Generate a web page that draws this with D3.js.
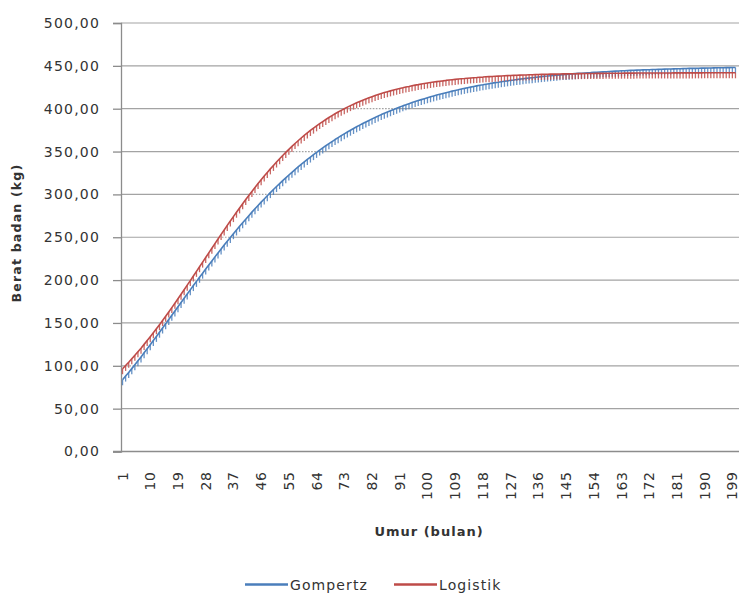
<!DOCTYPE html>
<html>
<head>
<meta charset="utf-8">
<script src="https://cdn.jsdelivr.net/npm/d3@7"></script>
<style>
  html, body { margin: 0; padding: 0; background: #fff; }
  svg { display: block; }
  text { font-family: "DejaVu Sans", Verdana, sans-serif; fill: #333; }
</style>
</head>
<body>
<svg id="chart" width="739" height="597"></svg>
<script>
// Umur (bulan): 1 .. 200
const months = d3.range(1, 201);

// Berat badan (kg) per bulan, model Gompertz
const gompertz = [
  83.7, 88.0, 92.3, 96.7, 101.2, 105.8, 110.4, 115.1, 119.8, 124.6,
  129.4, 134.3, 139.2, 144.1, 149.0, 154.0, 158.9, 163.9, 168.9, 173.8,
  178.8, 183.7, 188.6, 193.6, 198.5, 203.3, 208.1, 212.9, 217.7, 222.4,
  227.1, 231.7, 236.3, 240.9, 245.4, 249.8, 254.2, 258.5, 262.8, 267.0,
  271.1, 275.2, 279.3, 283.2, 287.1, 291.0, 294.7, 298.4, 302.1, 305.7,
  309.2, 312.6, 316.0, 319.3, 322.6, 325.8, 328.9, 332.0, 335.0, 337.9,
  340.8, 343.6, 346.4, 349.0, 351.7, 354.2, 356.8, 359.2, 361.6, 364.0,
  366.2, 368.5, 370.7, 372.8, 374.9, 376.9, 378.9, 380.8, 382.7, 384.5,
  386.3, 388.1, 389.8, 391.4, 393.1, 394.6, 396.1, 397.6, 399.1, 400.5,
  401.9, 403.3, 404.5, 405.8, 407.1, 408.3, 409.5, 410.6, 411.7, 412.8,
  413.9, 414.9, 415.9, 416.9, 417.8, 418.7, 419.6, 420.5, 421.3, 422.1,
  423.0, 423.7, 424.5, 425.2, 425.9, 426.6, 427.3, 427.9, 428.6, 429.2,
  429.8, 430.4, 430.9, 431.5, 432.0, 432.5, 433.1, 433.5, 434.0, 434.5,
  435.0, 435.4, 435.8, 436.2, 436.6, 437.0, 437.4, 437.8, 438.1, 438.5,
  438.8, 439.1, 439.5, 439.8, 440.0, 440.3, 440.6, 440.9, 441.2, 441.4,
  441.7, 441.9, 442.1, 442.4, 442.6, 442.8, 443.0, 443.2, 443.4, 443.6,
  443.8, 444.0, 444.2, 444.3, 444.5, 444.7, 444.8, 445.0, 445.1, 445.3,
  445.4, 445.5, 445.7, 445.8, 445.9, 446.0, 446.2, 446.3, 446.4, 446.5,
  446.6, 446.7, 446.8, 446.9, 447.0, 447.1, 447.1, 447.2, 447.3, 447.4,
  447.5, 447.5, 447.6, 447.7, 447.8, 447.8, 447.9, 447.9, 448.0, 448.1
];

// Berat badan (kg) per bulan, model Logistik
const logistik = [
  96.6, 100.4, 104.2, 108.2, 112.2, 116.4, 120.6, 125.0, 129.4, 133.9,
  138.6, 143.3, 148.0, 152.9, 157.8, 162.8, 167.9, 173.0, 178.2, 183.5,
  188.7, 194.1, 199.4, 204.8, 210.2, 215.6, 221.0, 226.4, 231.8, 237.2,
  242.6, 247.9, 253.3, 258.5, 263.8, 269.0, 274.1, 279.2, 284.2, 289.1,
  294.0, 298.8, 303.5, 308.1, 312.6, 317.0, 321.4, 325.6, 329.8, 333.8,
  337.8, 341.6, 345.4, 349.0, 352.6, 356.0, 359.4, 362.6, 365.8, 368.8,
  371.7, 374.6, 377.3, 380.0, 382.6, 385.0, 387.4, 389.7, 391.9, 394.1,
  396.1, 398.1, 400.0, 401.8, 403.6, 405.3, 406.9, 408.4, 409.9, 411.4,
  412.7, 414.0, 415.3, 416.5, 417.7, 418.8, 419.8, 420.8, 421.8, 422.7,
  423.6, 424.4, 425.3, 426.0, 426.8, 427.5, 428.1, 428.8, 429.4, 430.0,
  430.6, 431.1, 431.6, 432.1, 432.5, 433.0, 433.4, 433.8, 434.2, 434.6,
  434.9, 435.2, 435.6, 435.9, 436.2, 436.4, 436.7, 436.9, 437.2, 437.4,
  437.6, 437.8, 438.0, 438.2, 438.4, 438.6, 438.7, 438.9, 439.0, 439.2,
  439.3, 439.4, 439.6, 439.7, 439.8, 439.9, 440.0, 440.1, 440.2, 440.3,
  440.4, 440.4, 440.5, 440.6, 440.6, 440.7, 440.8, 440.8, 440.9, 440.9,
  441.0, 441.0, 441.1, 441.1, 441.2, 441.2, 441.2, 441.3, 441.3, 441.4,
  441.4, 441.4, 441.4, 441.5, 441.5, 441.5, 441.5, 441.6, 441.6, 441.6,
  441.6, 441.6, 441.7, 441.7, 441.7, 441.7, 441.7, 441.7, 441.7, 441.8,
  441.8, 441.8, 441.8, 441.8, 441.8, 441.8, 441.8, 441.8, 441.8, 441.9,
  441.9, 441.9, 441.9, 441.9, 441.9, 441.9, 441.9, 441.9, 441.9, 441.9
];

// Axis ticks
const xTickMonths = [1, 10, 19, 28, 37, 46, 55, 64, 73, 82, 91, 100, 109, 118,
                     127, 136, 145, 154, 163, 172, 181, 190, 199];
const yTicks = [0, 50, 100, 150, 200, 250, 300, 350, 400, 450, 500];

const seriesNames = ["Gompertz", "Logistik"];
const seriesColors = ["#4a7ebb", "#be4b48"];

const svg = d3.select("#chart");
const plot = { left: 121, right: 737, top: 23, bottom: 451.5 };
const gridRight = 739;

const x = d3.scaleBand().domain(months).range([plot.left, plot.right]);
const xc = m => x(m) + x.bandwidth() / 2;
const y = d3.scaleLinear().domain([0, 500]).range([plot.bottom, plot.top]);

const idLocale = d3.formatLocale({ decimal: ",", thousands: ".", grouping: [3], currency: ["Rp", ""] });
const fmt = idLocale.format(".2f");

// Horizontal gridlines
svg.append("g")
  .selectAll("line")
  .data(yTicks.filter(v => v > 0))
  .join("line")
  .attr("x1", plot.left).attr("x2", gridRight)
  .attr("y1", d => y(d)).attr("y2", d => y(d))
  .attr("stroke", "#a3a3a3").attr("stroke-width", 1.2);

// High-low lines between the two series (light, breaking the gridlines)
svg.append("g")
  .selectAll("line")
  .data(months.map((m, i) => [m, gompertz[i], logistik[i]]))
  .join("line")
  .attr("x1", d => xc(d[0])).attr("x2", d => xc(d[0]))
  .attr("y1", d => y(Math.max(d[1], d[2]))).attr("y2", d => y(Math.min(d[1], d[2])))
  .attr("stroke", "#fff").attr("stroke-width", 1.4);

// Y axis
const yAxis = svg.append("g")
  .attr("transform", `translate(${plot.left},0)`)
  .call(d3.axisLeft(y).tickValues(yTicks).tickFormat(fmt).tickSize(8).tickPadding(13));
yAxis.select(".domain").attr("stroke", "#8c8c8c").attr("stroke-width", 1.3);
yAxis.selectAll(".tick line").attr("stroke", "#8c8c8c").attr("stroke-width", 1.3);
yAxis.selectAll(".tick text")
  .style("font-family", "'DejaVu Sans', Verdana, sans-serif")
  .style("font-size", "14px")
  .style("letter-spacing", "1.2px")
  .attr("fill", "#333");

// X axis
const xAxis = svg.append("g")
  .attr("transform", `translate(0,${plot.bottom})`)
  .call(d3.axisBottom(x).tickValues(xTickMonths).tickSize(0).tickPadding(0));
xAxis.select(".domain").attr("stroke", "#8c8c8c").attr("stroke-width", 1.3)
  .attr("d", `M${plot.left - 8},0H${gridRight}`);
xAxis.selectAll(".tick text")
  .style("font-family", "'DejaVu Sans', Verdana, sans-serif")
  .style("font-size", "14px")
  .style("letter-spacing", "0.6px")
  .attr("fill", "#333")
  .attr("text-anchor", "end")
  .attr("dominant-baseline", "central")
  .attr("dy", null)
  .attr("y", 0)
  .attr("transform", "translate(0,20) rotate(-90)");

// Series: thin line plus a short downward tick at each month
const line = d3.line().x((d, i) => xc(months[i])).y(d => y(d));
[gompertz, logistik].forEach((vals, s) => {
  const g = svg.append("g");
  g.append("g")
    .selectAll("line")
    .data(vals)
    .join("line")
    .attr("x1", (d, i) => xc(months[i])).attr("x2", (d, i) => xc(months[i]))
    .attr("y1", d => y(d)).attr("y2", d => y(d) + 5.5)
    .attr("stroke", seriesColors[s]).attr("stroke-width", 1.3)
    .attr("stroke-opacity", 0.85);
  g.append("path")
    .datum(vals)
    .attr("d", line)
    .attr("fill", "none")
    .attr("stroke", seriesColors[s])
    .attr("stroke-width", 1.6)
    .attr("stroke-linejoin", "round");
});

// Axis titles
svg.append("text")
  .attr("transform", "translate(21,233) rotate(-90)")
  .attr("text-anchor", "middle")
  .style("font-size", "12.5px").style("font-weight", "bold").style("letter-spacing", "1.2px")
  .attr("fill", "#222")
  .text("Berat badan  (kg)");

svg.append("text")
  .attr("x", 429).attr("y", 536)
  .attr("text-anchor", "middle")
  .style("font-size", "13px").style("font-weight", "bold").style("letter-spacing", "1px")
  .attr("fill", "#222")
  .text("Umur (bulan)");

// Legend
const legendX = [245, 394];
const legend = svg.append("g");
seriesNames.forEach((name, s) => {
  legend.append("line")
    .attr("x1", legendX[s]).attr("x2", legendX[s] + 43)
    .attr("y1", 584.5).attr("y2", 584.5)
    .attr("stroke", seriesColors[s]).attr("stroke-width", 2.5);
  legend.append("text")
    .attr("x", legendX[s] + 45).attr("y", 589.5)
    .style("font-size", "14px").style("letter-spacing", "1.1px")
    .attr("fill", "#333")
    .text(name);
});
</script>
</body>
</html>
